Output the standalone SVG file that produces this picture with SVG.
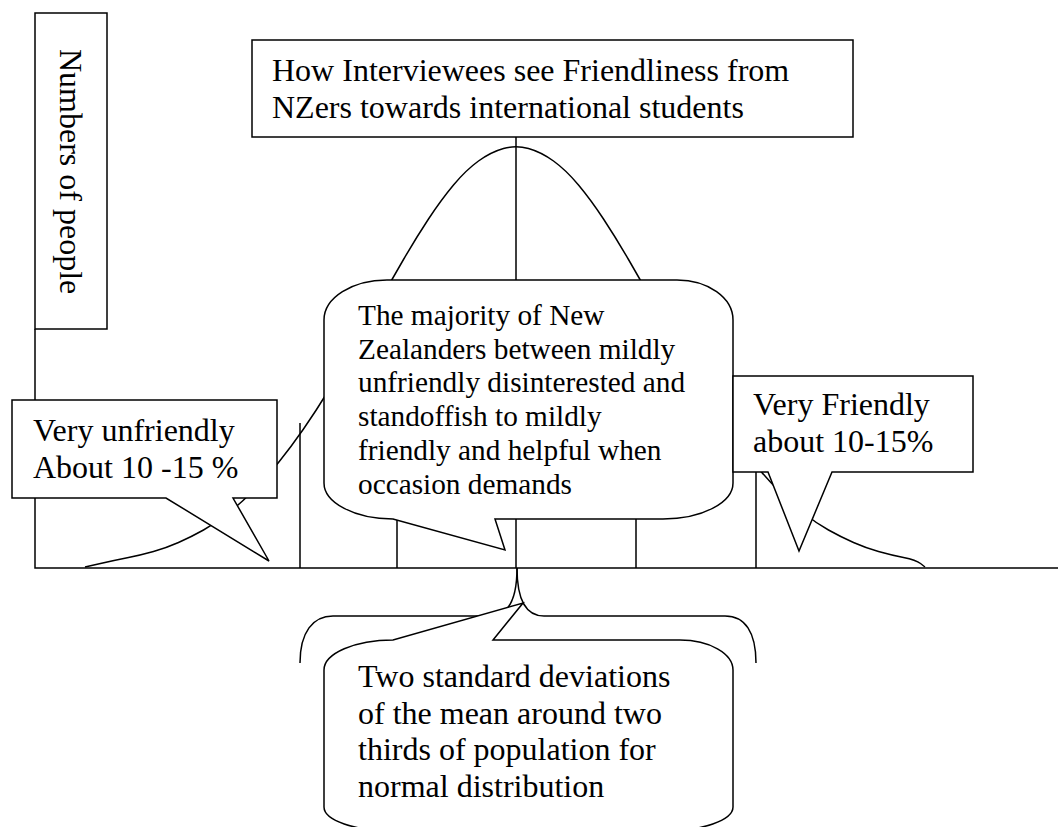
<svg xmlns="http://www.w3.org/2000/svg" width="1058" height="827" viewBox="0 0 1058 827">
<style>
.ln{fill:none;stroke:#000;stroke-width:1.5}
.bx{fill:#fff;stroke:#000;stroke-width:1.5;stroke-linejoin:miter}
.t32{font-family:"Liberation Serif","Times New Roman",serif;font-size:32px;fill:#000}
.t29{font-family:"Liberation Serif","Times New Roman",serif;font-size:29.3px;fill:#000}
</style>
<rect width="1058" height="827" fill="#fff"/>
<g id="connectors">
<path class="ln" d="M35,329 L35,568 L1058,568"/>
<path class="ln" d="M300,423 V568 M397,519 V568 M516,137 V568 M636,519 V568 M756,472 V568"/>
<path class="ln" d="M85,567 L100.5,563.5 Q116,560 128.5,557.5 Q141,555 153.5,551.5 Q166,548 178.5,542.5 Q191,537 203.5,530 Q216,523 228.5,513 Q241,503 253.5,490.5 Q266,478 278.5,462.5 Q291,447 303.5,429 Q316,411 328.5,390.5 Q341,370 353.5,348 Q366,326 378.5,303.5 Q391,281 403.5,259.5 Q416,238 428.5,219 Q441,200 453.5,185 Q466,170 478.5,161 Q491,152 503.5,148.5 Q516,145 528.5,148.5 Q541,152 553.5,161 Q566,170 578.5,185 Q591,200 603.5,219 Q616,238 628.5,259.5 Q641,281 653.5,303.5 Q666,326 678.5,348 Q691,370 703.5,390.5 Q716,411 728.5,429 Q741,447 753.5,462.5 Q766,478 778.5,490.5 Q791,503 803.5,513 Q816,523 828.5,530 Q841,537 853.5,542.5 Q866,548 878.5,551.5 Q891,555 903.5,557.5 Q916,560 920.5,563.5 L925,567"/>
<path class="ln" d="M517,568 C517,603 506,616 490,616 L333,616 C313,616 300,632 300,663"/>
<path class="ln" d="M517,568 C517,603 528,616 544,616 L725,616 C745,616 756,632 756,663"/>
</g>
<g id="ylabel">
<rect class="bx" x="35" y="13" width="72" height="316"/>
<text class="t32" transform="translate(60,49) rotate(90)">Numbers of people</text>
</g>
<g id="title">
<rect class="bx" x="252" y="40" width="601" height="97"/>
<text class="t32" x="272" y="81">How Interviewees see Friendliness from</text>
<text class="t32" x="272" y="118">NZers towards international students</text>
</g>
<g id="majority">
<path class="bx" d="M387,280 L677,280 A56,40 0 0 1 733,320 L733,483 A70,36 0 0 1 663,519 L495,519 L505,550 L393,519 A69,36 0 0 1 324,483 L324,320 A63,40 0 0 1 387,280 Z"/>
<text class="t29" x="358" y="325">The majority of New</text>
<text class="t29" x="358" y="358.7">Zealanders between mildly</text>
<text class="t29" x="358" y="392.4">unfriendly disinterested and</text>
<text class="t29" x="358" y="426.1">standoffish to mildly</text>
<text class="t29" x="358" y="459.8">friendly and helpful when</text>
<text class="t29" x="358" y="493.5">occasion demands</text>
</g>
<g id="unfriendly">
<path class="bx" d="M12,400 L277,400 L277,498 L233,498 L269,561 L166,498 L12,498 Z"/>
<text class="t32" x="33" y="441">Very unfriendly</text>
<text class="t32" x="33" y="478">About 10 -15 %</text>
</g>
<g id="friendly">
<path class="bx" d="M733,376 L973,376 L973,472 L832,472 L799,551 L768,472 L733,472 Z"/>
<text class="t32" x="753" y="415">Very Friendly</text>
<text class="t32" x="753" y="452">about 10-15%</text>
</g>
<g id="stddev">
<path class="bx" d="M324,670 A69,30 0 0 1 393,640 L523,603 L493,640 L680,640 A53,30 0 0 1 733,670 L733,807 A69,24 0 0 1 664,831 L393,831 A69,24 0 0 1 324,807 Z"/>
<text class="t32" x="358" y="687">Two standard deviations</text>
<text class="t32" x="358" y="723.5">of the mean around two</text>
<text class="t32" x="358" y="760">thirds of population for</text>
<text class="t32" x="358" y="797">normal distribution</text>
</g>
</svg>
